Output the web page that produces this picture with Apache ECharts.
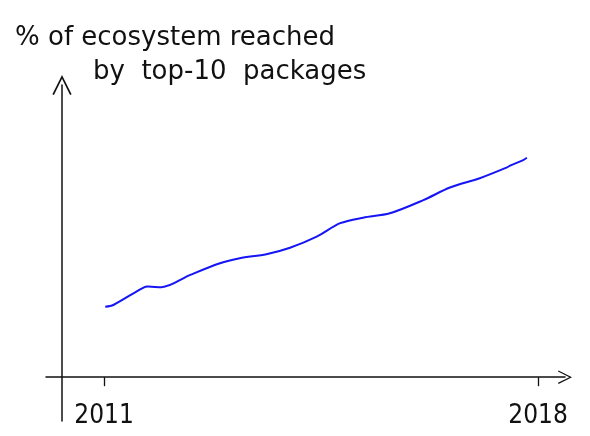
<!DOCTYPE html>
<html>
<head>
<meta charset="utf-8">
<script src="https://cdn.jsdelivr.net/npm/echarts@6/dist/echarts.min.js"></script>
<style>
html,body{margin:0;padding:0;background:#fff;}
#chart{width:590px;height:436px;}
</style>
</head>
<body>
<div id="chart"></div>
<script>
// Data
const titleLine1 = '% of ecosystem reached';
const titleLine2 = 'by  top-10  packages';
const tickYears = [2011, 2018];
const years = [2011.02, 2011.15, 2011.63, 2011.71, 2011.93, 2012.39, 2012.87, 2013.19, 2013.62, 2014.00,
  2014.43, 2014.81, 2015.18, 2015.61, 2016.15, 2016.58, 2017.06, 2017.50, 2017.55, 2017.76, 2017.82];
const reach = [24.1, 24.7, 30.6, 31.0, 30.8, 35.0, 39.0, 40.7, 42.1, 44.3,
  48.1, 52.7, 54.6, 56.1, 60.6, 64.9, 68.1, 71.8, 72.4, 74.3, 75.1];

const chart = echarts.init(document.getElementById('chart'));
const arrowPath = 'path://M0,10 L5,0 L10,10 L9.2,10.4 L5,2 L0.8,10.4 Z';
const handFont = 'DejaVu Sans';
chart.setOption({
  animation: false,
  backgroundColor: '#ffffff',
  title: [
    { text: titleLine1, left: 10, top: 20,
      textStyle: { fontFamily: handFont, fontSize: 26, fontWeight: 'normal', color: '#111' } },
    { text: titleLine2, left: 88, top: 54,
      textStyle: { fontFamily: handFont, fontSize: 26, fontWeight: 'normal', color: '#111' } }
  ],
  grid: { left: 46, right: 25, top: 85, bottom: 15, containLabel: false, outerBoundsMode: 'none' },
  xAxis: {
    type: 'value',
    min: 2010.0645,
    max: 2018.435,
    splitLine: { show: false },
    axisLine: {
      show: true, onZero: true,
      lineStyle: { color: '#111', width: 1.5 },
      symbol: ['none', arrowPath],
      symbolSize: [26, 14]
    },
    axisTick: { show: true, customValues: tickYears, length: 9, lineStyle: { color: '#111', width: 1.3 } },
    axisLabel: {
      show: true, customValues: tickYears, margin: -18,
      fontFamily: 'DejaVu Sans Condensed, DejaVu Sans, sans-serif', fontSize: 26, color: '#111',
      formatter: v => String(Math.round(v))
    }
  },
  yAxis: {
    type: 'value',
    min: -15,
    max: 100,
    offset: -16,
    splitLine: { show: false },
    axisTick: { show: false },
    axisLabel: { show: false },
    axisLine: {
      show: true, onZero: false,
      lineStyle: { color: '#111', width: 1.5 },
      symbol: ['none', arrowPath],
      symbolSize: [20, 20]
    }
  },
  series: [{
    type: 'line',
    data: years.map((y, i) => [y, reach[i]]),
    smooth: 0.3,
    showSymbol: false,
    lineStyle: { color: '#1515f5', width: 2 }
  }]
});
</script>
</body>
</html>
